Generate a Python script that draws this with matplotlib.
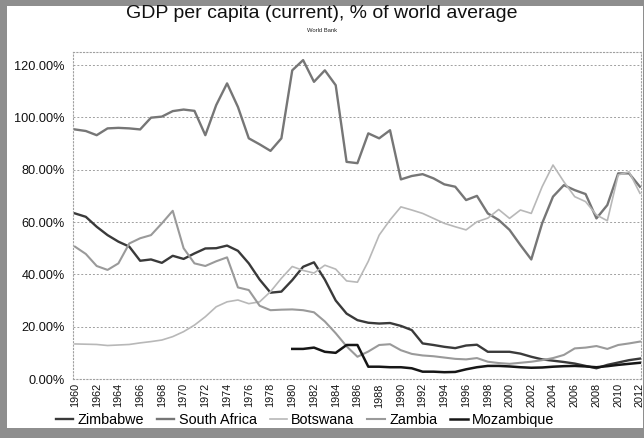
import numpy as np
import matplotlib
matplotlib.use("Agg")
import matplotlib.pyplot as plt
from matplotlib.patches import Rectangle

plt.rcParams['font.family'] = ['Liberation Sans', 'DejaVu Sans']

years = list(range(1960, 2013))
tick_years = list(range(1960, 2013, 2))

zimbabwe = [63.3, 62.0, 58.2, 55.0, 52.5, 50.6, 45.2, 45.7, 44.4, 47.1,
            45.9, 48.0, 49.9, 50.0, 51.0, 49.0, 44.2, 38.0, 33.0, 33.4,
            37.8, 42.9, 44.6, 38.0, 30.0, 25.0, 22.5, 21.5, 21.2, 21.4,
            20.3, 18.7, 13.6, 13.0, 12.3, 11.8, 12.8, 13.1, 10.4, 10.4,
            10.4, 9.7, 8.5, 7.5, 7.0, 6.5, 5.9, 5.0, 4.1, 5.4,
            6.3, 7.2, 7.8]
south_africa = [95.4, 94.8, 93.2, 95.8, 96.0, 95.8, 95.4, 99.9, 100.3, 102.4,
                103.0, 102.5, 93.2, 104.7, 113.0, 104.0, 92.0, 89.7, 87.2, 92.0,
                118.0, 121.9, 113.6, 118.0, 112.3, 83.0, 82.5, 93.9, 92.0, 95.1,
                76.3, 77.6, 78.3, 76.7, 74.4, 73.5, 68.4, 70.0, 63.3, 60.8,
                57.0, 51.2, 45.7, 59.5, 69.7, 74.1, 72.2, 70.7, 61.4, 66.5,
                78.6, 78.6, 73.5]
botswana = [13.4, 13.3, 13.2, 12.8, 13.0, 13.2, 13.8, 14.3, 14.9, 16.2,
            18.1, 20.6, 23.8, 27.6, 29.5, 30.2, 28.8, 29.5, 33.4, 38.5,
            43.0, 41.5, 40.5, 43.5, 42.0, 37.5, 37.0, 45.0, 55.0, 60.8,
            65.8, 64.6, 63.3, 61.4, 59.5, 58.2, 57.0, 60.1, 61.5, 64.8,
            61.4, 64.6, 63.3, 73.5, 81.8, 75.4, 69.7, 67.8, 62.7, 60.5,
            78.0, 79.2, 71.0]
zambia = [50.6, 47.8, 43.2, 41.7, 44.2, 51.8, 53.8, 55.0, 59.5, 64.3,
          50.0, 44.2, 43.2, 45.0, 46.5, 35.0, 34.0, 28.0, 26.3, 26.5,
          26.6, 26.3, 25.5, 22.0, 17.5, 12.5, 8.5, 10.5, 13.0, 13.3,
          11.0, 9.6, 9.0, 8.7, 8.2, 7.7, 7.5, 8.0, 6.6, 6.1,
          5.8, 6.2, 6.6, 7.2, 8.0, 9.2, 11.7, 12.0, 12.6, 11.5,
          13.0, 13.6, 14.3]
mozambique = [np.nan] * 20 + [
              11.5, 11.5, 12.0, 10.4, 10.0, 13.0, 13.0, 4.7, 4.7, 4.5,
              4.5, 4.1, 2.8, 2.8, 2.6, 2.7, 3.7, 4.5, 5.0, 5.0,
              4.8, 4.5, 4.3, 4.4, 4.7, 4.9, 5.0, 4.8, 4.5, 4.9,
              5.4, 5.8, 6.2]

series_names = ["Zimbabwe", "South Africa", "Botswana", "Zambia", "Mozambique"]
series_values = [zimbabwe, south_africa, botswana, zambia, mozambique]
series_colors = ["#3a3a3a", "#767676", "#b8b8b8", "#9a9a9a", "#161616"]
series_widths = [1.7, 1.7, 1.2, 1.5, 1.8]

W, H = 644, 438
fig = plt.figure(figsize=(W / 100, H / 100), dpi=100)
fig.patch.set_facecolor("#8e8e8e")
# inner white page
page = Rectangle((7 / W, 10 / H), (W - 8) / W, (H - 16) / H,
                 transform=fig.transFigure, facecolor="white",
                 edgecolor="none", zorder=-5)
fig.patches.append(page)

ax = fig.add_axes([73 / W, (H - 379) / H, (641 - 73) / W, (379 - 52) / H])
ax.set_zorder(2)
ax.set_facecolor("white")

for name, vals, c, lw in zip(series_names, series_values, series_colors, series_widths):
    ax.plot(years, vals, color=c, lw=lw, label=name, solid_joinstyle="round")

ax.set_xlim(1959.82, 2012.1)
ax.set_ylim(0, 125)
ax.set_yticks([0, 20, 40, 60, 80, 100, 120])
ax.set_yticklabels([f"{v:.2f}%" for v in [0, 20, 40, 60, 80, 100, 120]], fontsize=9.2)
ax.set_xticks(tick_years)
ax.set_xticklabels([str(y) for y in tick_years], rotation=90, fontsize=7.8)
ax.tick_params(axis="both", length=0, colors="#111111")
ax.tick_params(axis="y", pad=6)
ax.tick_params(axis="x", pad=3)

ax.grid(axis="y", color="#a0a0a0", linestyle=(0, (2, 2)), linewidth=0.7)
for s in ax.spines.values():
    s.set_color("#a0a0a0")
    s.set_linestyle((0, (1, 2)))
    s.set_linewidth(0.8)

fig.text(0.5, (H - 14) / H, "GDP per capita (current), % of world average",
         ha="center", va="center", fontsize=14, color="#111111", zorder=3)
fig.text(0.5, (H - 30) / H, "World Bank", ha="center", va="center",
         fontsize=4.2, color="#222222", zorder=3)

leg = fig.legend(loc="center", bbox_to_anchor=(305 / W, (H - 420) / H), ncol=5,
                 frameon=False, fontsize=10.4, handlelength=1.2, handletextpad=0.3,
                 columnspacing=0.9)
leg.set_zorder(3)

fig.savefig("out.png", dpi=100, facecolor=fig.get_facecolor())
